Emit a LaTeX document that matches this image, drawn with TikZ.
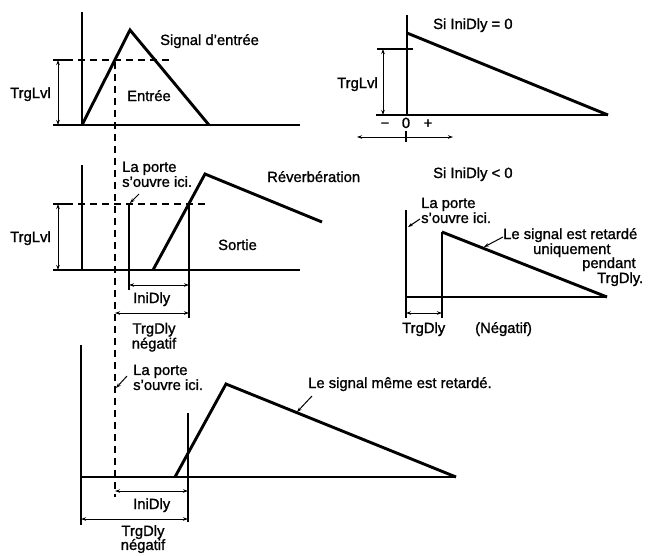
\documentclass[tikz,border=0pt]{standalone}
\usepackage{fontspec}
\setmainfont{Liberation Sans}[BoldFont=Liberation Sans, BoldFeatures={FakeBold=1.2}]
\usetikzlibrary{arrows.meta}
\begin{document}
\begin{tikzpicture}[x=1pt,y=-1pt,
  axis/.style={line width=1.9pt},
  sig/.style={line width=2.9pt, line join=miter},
  dashline/.style={line width=1.3pt, dash pattern=on 7pt off 5pt},
  tickline/.style={line width=1.1pt},
  vline/.style={line width=1.7pt},
  dim/.style={line width=1pt, {Stealth[length=5pt,width=3.5pt]}-{Stealth[length=5pt,width=3.5pt]}},
  ptr/.style={line width=1pt, -{Stealth[length=5pt,width=3.5pt]}},
  lbl/.style={font=\fontsize{14.8}{15}\selectfont\bfseries, inner sep=0pt},
  lblc/.style={lbl, align=center, anchor=north},
  lbll/.style={lbl, align=left, anchor=north west},
]
\useasboundingbox (0,0) rectangle (656,555);

% ---------------- Panel 1 : input ----------------
\coordinate (A1top) at (82,12);
\coordinate (A1o) at (82,125);
\coordinate (A1end) at (300,125);
\coordinate (S1peak) at (130,30);
\coordinate (S1end) at (209,125);
\draw[axis] (A1top) -- (A1o) -- (A1end);
\draw[sig] (A1o) -- (S1peak) -- (S1end);
\coordinate (T1a) at (53,60);
\coordinate (T1b) at (66,60);
\coordinate (T1c) at (173,60);
\coordinate (T1d) at (53,125);
\draw[tickline] (T1a) -- (T1b);
\draw[dashline] (T1b) -- (T1c);
\draw[tickline] (T1d) -- (A1o);
\coordinate (D1a) at (58,60);
\coordinate (D1b) at (58,125);
\draw[dim] (D1a) -- (D1b);
\node[lbl, anchor=base west] (trglvl1) at (10,98) {TrgLvl};
\node[lbl, anchor=base west] (entree) at (127,101) {Entrée};
\node[lbl, anchor=base west] (sigin) at (160,45) {Signal d'entrée};

% gate dashed line through panels
\coordinate (G1) at (115,62);
\coordinate (G2) at (115,497);
\draw[dashline] (G1) -- (G2);

% ---------------- Panel 2 : output ----------------
\coordinate (A2top) at (82,165);
\coordinate (A2o) at (82,270);
\coordinate (A2end) at (300,270);
\coordinate (S2a) at (153,270);
\coordinate (S2peak) at (205,174);
\coordinate (S2end) at (322,222);
\draw[axis] (A2top) -- (A2o) -- (A2end);
\draw[sig] (S2a) -- (S2peak) -- (S2end);
\coordinate (T2a) at (53,204);
\coordinate (T2b) at (66,204);
\coordinate (T2c) at (208,204);
\coordinate (T2d) at (53,270);
\draw[tickline] (T2a) -- (T2b);
\draw[dashline] (T2b) -- (T2c);
\draw[tickline] (T2d) -- (A2o);
\coordinate (D2a) at (58,204);
\coordinate (D2b) at (58,270);
\draw[dim] (D2a) -- (D2b);
\coordinate (V2a) at (129,204);
\coordinate (V2b) at (129,290);
\coordinate (V2c) at (189,204);
\coordinate (V2d) at (189,318);
\draw[vline] (V2a) -- (V2b);
\draw[vline] (V2c) -- (V2d);
\coordinate (I2a) at (129,285);
\coordinate (I2b) at (189,285);
\draw[dim] (I2a) -- (I2b);
\coordinate (N2a) at (115,313);
\coordinate (N2b) at (189,313);
\draw[dim] (N2a) -- (N2b);
\node[lbl, anchor=base west] (trglvl2) at (10,242) {TrgLvl};
\node[lbll] (porte2) at (122,161.5) {La porte\\s'ouvre ici.};
\coordinate (P2a) at (139,194);
\coordinate (P2b) at (130,203);
\draw[ptr] (P2a) -- (P2b);
\node[lbl, anchor=base west] (reverb) at (267,182) {Réverbération};
\node[lbl, anchor=base west] (sortie) at (218,250) {Sortie};
\node[lbl, anchor=base west] (inidly2) at (133,303) {IniDly};
\node[lblc] (trgneg2) at (154,322.6) {TrgDly\\négatif};

% ---------------- Panel 3 : delayed ----------------
\coordinate (A3top) at (81,345);
\coordinate (A3o) at (81,477);
\coordinate (A3end) at (456,477);
\coordinate (A3tick) at (81,525);
\coordinate (S3a) at (175,477);
\coordinate (S3peak) at (226,384);
\draw[axis] (A3top) -- (A3o) -- (A3end);
\draw[tickline] (A3o) -- (A3tick);
\draw[sig] (S3a) -- (S3peak) -- (A3end);
\coordinate (V3a) at (188,413);
\coordinate (V3b) at (188,522);
\draw[vline] (V3a) -- (V3b);
\coordinate (I3a) at (115,491);
\coordinate (I3b) at (188,491);
\draw[dim] (I3a) -- (I3b);
\coordinate (N3a) at (81,519);
\coordinate (N3b) at (188,519);
\draw[dim] (N3a) -- (N3b);
\node[lbll] (porte3) at (133,364.6) {La porte\\s'ouvre ici.};
\coordinate (P3a) at (127,376);
\coordinate (P3b) at (116,388);
\draw[ptr] (P3a) -- (P3b);
\node[lbl, anchor=base west] (meme) at (308,388) {Le signal même est retardé.};
\coordinate (M3a) at (312,396);
\coordinate (M3b) at (297,412);
\draw[ptr] (M3a) -- (M3b);
\node[lbl, anchor=base west] (inidly3) at (133,509) {IniDly};
\node[lblc, font=\fontsize{14.8}{14}\selectfont\bfseries] (trgneg3) at (143,525) {TrgDly\\négatif};

% ---------------- Panel 4 : IniDly = 0 ----------------
\coordinate (A4top) at (407,15);
\coordinate (A4o) at (407,115);
\coordinate (A4end) at (608,115);
\coordinate (S4a) at (407,33);
\draw[axis] (A4top) -- (A4o) -- (A4end);
\draw[sig] (S4a) -- (A4end);
\coordinate (T4a) at (377,49);
\coordinate (T4b) at (413,49);
\coordinate (T4c) at (376,115);
\draw[tickline] (T4a) -- (T4b);
\draw[tickline] (T4c) -- (A4o);
\coordinate (D4a) at (383,49);
\coordinate (D4b) at (383,115);
\draw[dim] (D4a) -- (D4b);
\node[lbl, anchor=base west] (trglvl4) at (337,88) {TrgLvl};
\node[lbl, anchor=base west] (si0) at (433,29) {Si IniDly = 0};
\node[lbl, anchor=base] (minus) at (385,128) {−};
\node[lbl, anchor=base] (zero) at (406,128) {0};
\node[lbl, anchor=base] (plus) at (428,128) {+};
\coordinate (R4a) at (357,137);
\coordinate (R4b) at (453,137);
\coordinate (R4c) at (406,131);
\coordinate (R4d) at (406,142);
\draw[dim] (R4a) -- (R4b);
\draw[tickline] (R4c) -- (R4d);

% ---------------- Panel 5 : IniDly < 0 ----------------
\coordinate (A5top) at (406,210);
\coordinate (A5o) at (406,297);
\coordinate (A5end) at (607,297);
\coordinate (S5a) at (442,232);
\coordinate (S5b) at (442,297);
\draw[axis] (A5top) -- (A5o) -- (A5end);
\draw[vline] (S5b) -- (S5a);
\draw[sig] (S5a) -- (A5end);
\coordinate (T5a) at (406,318);
\coordinate (T5b) at (442,318);
\draw[tickline] (A5o) -- (T5a);
\draw[tickline] (S5b) -- (T5b);
\coordinate (D5a) at (406,313);
\coordinate (D5b) at (442,313);
\draw[dim] (D5a) -- (D5b);
\node[lbl, anchor=base west] (silt) at (433,178) {Si IniDly < 0};
\node[lbll] (porte5) at (421,197.6) {La porte\\s'ouvre ici.};
\coordinate (P5a) at (420,219);
\coordinate (P5b) at (408,227);
\draw[ptr] (P5a) -- (P5b);
\node[lbl, anchor=base west] (ret1) at (503,239) {Le signal est retardé};
\node[lbl, anchor=base west] (ret2) at (533,254) {uniquement};
\node[lbl, anchor=base west] (ret3) at (582,268) {pendant};
\node[lbl, anchor=base west] (ret4) at (597,283) {TrgDly.};
\coordinate (L5a) at (503,237);
\coordinate (L5b) at (484,247);
\draw[ptr] (L5a) -- (L5b);
\node[lbl, anchor=base west] (trgdly5) at (402,333) {TrgDly};
\node[lbl, anchor=base west] (negatif5) at (475,333) {(Négatif)};
\end{tikzpicture}
\end{document}
